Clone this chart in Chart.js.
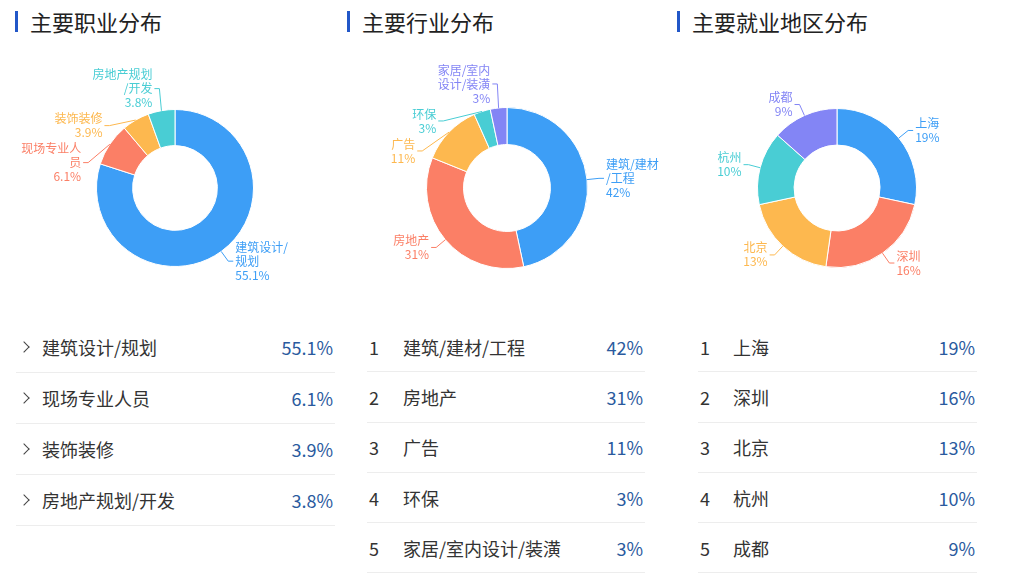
<!DOCTYPE html>
<html>
<head>
<meta charset="utf-8">
<script src="https://cdn.jsdelivr.net/npm/chart.js@4.4.1/dist/chart.umd.min.js"></script>
<style>
  body { margin: 0; width: 1024px; height: 575px; background: #fff; position: relative; overflow: hidden;
         font-family: "Noto Sans CJK SC", "Noto Sans", sans-serif; }
  .title { position: absolute; top: 8px; height: 26px; line-height: 26px; font-size: 22px; color: #222; padding-left: 15px; }
  .title:before { content: ""; position: absolute; left: 0; top: 3px; width: 3px; height: 21px; background: #2257c8; }
  .box { position: absolute; top: 50px; }
  .row { position: absolute; box-sizing: border-box; border-bottom: 1px solid #ededed; font-size: 18px; color: #333; }
  .row span { position: absolute; top: 50%; transform: translateY(-50%); white-space: nowrap; }
  .row .val { right: 2px; color: #2a5a9e; }
  .chev { width: 7px; height: 7px; border-top: 1.4px solid #444; border-right: 1.4px solid #444;
          transform: translateY(-50%) rotate(45deg) !important; }
</style>
</head>
<body>
<div class="title" style="left:15px">主要职业分布</div>
<div class="title" style="left:347px">主要行业分布</div>
<div class="title" style="left:677px">主要就业地区分布</div>

<div class="box" style="left:0px"><canvas id="occ" width="335" height="270"></canvas></div>
<div class="box" style="left:340px"><canvas id="ind" width="330" height="270"></canvas></div>
<div class="box" style="left:680px"><canvas id="city" width="330" height="270"></canvas></div>

<div id="occTable"></div>
<div id="indTable"></div>
<div id="cityTable"></div>

<script>
// 主要职业分布
var occNames  = ['建筑设计/规划', '现场专业人员', '装饰装修', '房地产规划/开发'];
var occValues = [55.1, 6.1, 3.9, 3.8];
var occLabels = ['建筑设计/\n规划', '现场专业人\n员', '装饰装修', '房地产规划\n/开发'];

// 主要行业分布
var indNames  = ['建筑/建材/工程', '房地产', '广告', '环保', '家居/室内设计/装潢'];
var indValues = [42, 31, 11, 3, 3];
var indLabels = ['建筑/建材\n/工程', '房地产', '广告', '环保', '家居/室内\n设计/装潢'];

// 主要就业地区分布
var cityNames  = ['上海', '深圳', '北京', '杭州', '成都'];
var cityValues = [19, 16, 13, 10, 9];
var cityLabels = cityNames;

var palette = ['#3d9ef6', '#fb7f66', '#fdb84f', '#49cdd4', '#8385f5'];

// spread labels of one side so they do not sit on top of each other
function settle(list, gap) {
  list.sort(function(a, b) { return a.y0 - b.y0; });
  var sep = function(a, b) { return (a.h + b.h) / 2 + gap; };
  var down = [], sym = list.map(function(it) { return it.y0; });
  list.forEach(function(it, k) {
    down[k] = k ? Math.max(it.y0, down[k - 1] + sep(list[k - 1], it)) : it.y0;
  });
  for (var n = 0; n < 300; n++) {
    var moved = false;
    for (var k = 1; k < list.length; k++) {
      var d = sym[k - 1] + sep(list[k - 1], list[k]) - sym[k];
      if (d > 0.01) { sym[k - 1] -= d / 2; sym[k] += d / 2; moved = true; }
    }
    if (!moved) break;
  }
  list.forEach(function(it, k) { it.y = (down[k] + sym[k]) / 2; });
}

var outsideLabels = {
  id: 'outsideLabels',
  afterDatasetsDraw: function(chart, args, opts) {
    var ctx = chart.ctx;
    var ds = chart.data.datasets[0];
    var items = chart.getDatasetMeta(0).data.map(function(arc, i) {
      var p = arc.getProps(['x', 'y', 'startAngle', 'endAngle', 'outerRadius'], true);
      var mid = (p.startAngle + p.endAngle) / 2;
      var R = p.outerRadius + opts.length;
      var lines = opts.texts[i].split('\n').concat(ds.data[i] + '%');
      return { mid: mid, cx: p.x, cy: p.y, r: p.outerRadius, R: R, right: Math.cos(mid) >= 0,
               y0: p.y + Math.sin(mid) * R, h: lines.length * opts.lineHeight,
               lines: lines, color: ds.backgroundColor[i] };
    });
    settle(items.filter(function(it) { return it.right; }), 2);
    settle(items.filter(function(it) { return !it.right; }), 2);

    ctx.save();
    ctx.font = '12px "Noto Sans CJK SC", sans-serif';
    ctx.textBaseline = 'middle';
    ctx.lineWidth = 1;
    items.forEach(function(it) {
      var dir = it.right ? 1 : -1;
      var dy = it.y - it.cy;
      var ex = Math.abs(dy) < it.R ? it.cx + dir * Math.sqrt(it.R * it.R - dy * dy)
                                   : it.cx + Math.cos(it.mid) * it.R;
      ctx.strokeStyle = it.color;
      ctx.beginPath();
      ctx.moveTo(it.cx + Math.cos(it.mid) * it.r, it.cy + Math.sin(it.mid) * it.r);
      ctx.lineTo(ex, it.y);
      ctx.lineTo(ex + dir * opts.length2, it.y);
      ctx.stroke();
      ctx.fillStyle = it.color;
      ctx.textAlign = it.right ? 'left' : 'right';
      var tx = ex + dir * (opts.length2 + 2);
      it.lines.forEach(function(line, j) {
        ctx.fillText(line, tx, it.y + (j - (it.lines.length - 1) / 2) * opts.lineHeight);
      });
    });
    ctx.restore();
  }
};

function drawDonut(id, values, labels, cx, cy, r) {
  var canvas = document.getElementById(id);
  var W = canvas.width, H = canvas.height;
  return new Chart(canvas, {
    type: 'doughnut',
    data: {
      labels: labels,
      datasets: [{
        data: values,
        backgroundColor: palette.slice(0, values.length),
        borderColor: '#ffffff',
        borderWidth: 1,
        hoverOffset: 0
      }]
    },
    options: {
      responsive: false,
      animation: false,
      events: [],
      cutout: '54%',
      layout: { padding: { left: cx - r, right: W - cx - r, top: cy - r, bottom: H - cy - r } },
      plugins: {
        legend: { display: false },
        tooltip: { enabled: false },
        outsideLabels: { texts: labels, length: 12, length2: 5, lineHeight: 14 }
      }
    },
    plugins: [outsideLabels]
  });
}

drawDonut('occ', occValues, occLabels, 175, 138, 79);
drawDonut('ind', indValues, indLabels, 167, 138, 81);
drawDonut('city', cityValues, cityLabels, 157, 138, 80);

function buildTable(id, names, values, left, width, pitch, ranked, nameOffset) {
  var host = document.getElementById(id);
  names.forEach(function(name, i) {
    var row = document.createElement('div');
    row.className = 'row';
    row.style.left = left + 'px';
    row.style.width = width + 'px';
    row.style.top = (322 + i * pitch) + 'px';
    row.style.height = pitch + 'px';
    var mark = document.createElement('span');
    if (ranked) {
      mark.textContent = String(i + 1);
      mark.style.left = '2px';
    } else {
      mark.className = 'chev';
      mark.style.left = '4px';
    }
    var label = document.createElement('span');
    label.textContent = name;
    label.style.left = nameOffset + 'px';
    var val = document.createElement('span');
    val.className = 'val';
    val.textContent = values[i] + '%';
    row.appendChild(mark);
    row.appendChild(label);
    row.appendChild(val);
    host.appendChild(row);
  });
}

buildTable('occTable', occNames, occValues, 16, 319, 51, false, 26);
buildTable('indTable', indNames, indValues, 367, 278, 50.3, true, 36);
buildTable('cityTable', cityNames, cityValues, 698, 279, 50.3, true, 35);
</script>
</body>
</html>
